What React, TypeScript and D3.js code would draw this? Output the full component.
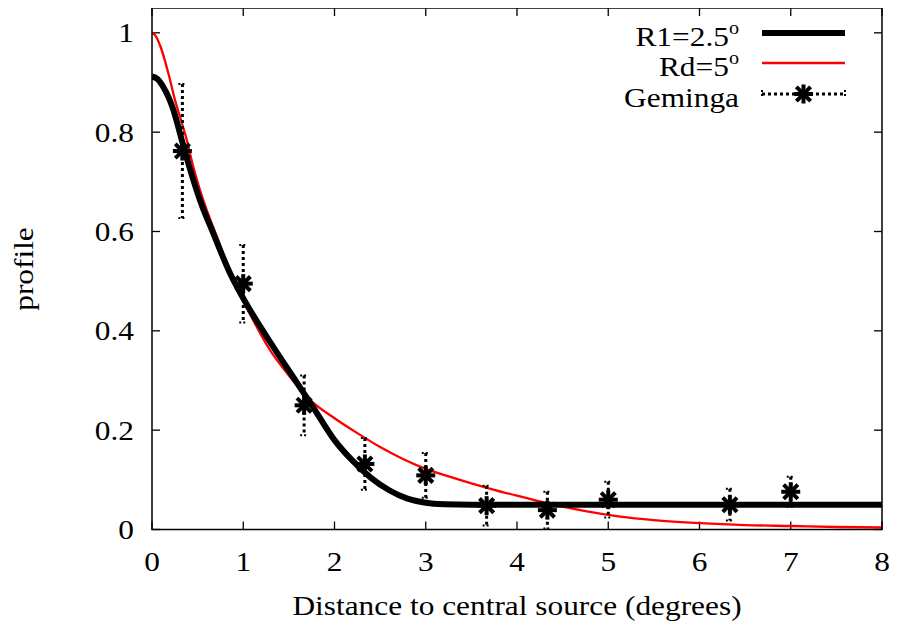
import React from "react";
import * as d3 from "d3";

const xTicks = [0, 1, 2, 3, 4, 5, 6, 7, 8];
const yTicks = [0, 0.2, 0.4, 0.6, 0.8, 1];
const yTickLabels = ["0", "0.2", "0.4", "0.6", "0.8", "1"];

// R1 = 2.5 deg profile (thick black)
const r1X = [0, 0.06, 0.124, 0.234, 0.325, 0.416, 0.526, 0.672, 0.855, 1.074, 1.3, 1.55, 1.77, 2.0, 2.2, 2.4, 2.6, 2.8, 3.0, 3.2, 3.5, 4.5, 6, 8];
const r1Y = [0.912, 0.907, 0.891, 0.845, 0.785, 0.726, 0.663, 0.596, 0.516, 0.442, 0.376, 0.306, 0.245, 0.18, 0.138, 0.104, 0.079, 0.062, 0.054, 0.051, 0.05, 0.05, 0.05, 0.05];

// Rd = 5 deg profile (thin red)
const rdX = [0, 0.04, 0.09, 0.18, 0.25, 0.32, 0.38, 0.45, 0.56, 0.71, 0.89, 1.07, 1.29, 1.5, 1.75, 2.0, 2.25, 2.5, 2.75, 3.0, 3.25, 3.5, 3.75, 4.0, 4.33, 4.75, 5.13, 5.5, 6.0, 6.5, 7.0, 7.5, 8.0];
const rdY = [1.0, 0.994, 0.974, 0.918, 0.866, 0.823, 0.785, 0.732, 0.664, 0.59, 0.503, 0.435, 0.362, 0.31, 0.258, 0.224, 0.194, 0.166, 0.142, 0.122, 0.107, 0.093, 0.08, 0.068, 0.053, 0.037, 0.026, 0.019, 0.013, 0.009, 0.007, 0.005, 0.004];

// Geminga data points
const gemX = [0.333, 1.0, 1.667, 2.333, 3.0, 3.667, 4.333, 5.0, 6.333, 7.0];
const gemY = [0.762, 0.495, 0.25, 0.132, 0.109, 0.048, 0.039, 0.06, 0.05, 0.076];
const gemErr = [0.135, 0.078, 0.06, 0.052, 0.045, 0.04, 0.037, 0.036, 0.032, 0.03];

const legendLabels = [
  { main: "R1=2.5", sup: "o" },
  { main: "Rd=5", sup: "o" },
  { main: "Geminga", sup: "" },
];

const W = 898;
const H = 631;
const left = 152;
const right = 882;
const top = 8;
const bottom = 529.5;
const FONT = "'Liberation Serif', 'Times New Roman', serif";
const FS = 28;
const SX = 1.12;

function Star({ cx, cy, r }: { cx: number; cy: number; r: number }) {
  const d = r * 0.75;
  return (
    <g stroke="#000" strokeWidth={4} strokeLinecap="butt">
      <line x1={cx - r} y1={cy} x2={cx + r} y2={cy} />
      <line x1={cx} y1={cy - r} x2={cx} y2={cy + r} />
      <line x1={cx - d} y1={cy - d} x2={cx + d} y2={cy + d} />
      <line x1={cx - d} y1={cy + d} x2={cx + d} y2={cy - d} />
    </g>
  );
}

function T({ x, y, anchor, children, rotate }: any) {
  const tr = `translate(${x},${y})${rotate ? ` rotate(${rotate})` : ""} scale(${SX},1)`;
  return (
    <text transform={tr} textAnchor={anchor} fontFamily={FONT} fontSize={FS} fill="#000">
      {children}
    </text>
  );
}

export default function App() {
  const x = d3.scaleLinear().domain([0, 8]).range([left, right]);
  const y = d3.scaleLinear().domain([0, 1.05]).range([bottom, top]);

  const line = d3
    .line<[number, number]>()
    .x((d) => x(d[0]))
    .y((d) => y(d[1]))
    .curve(d3.curveMonotoneX);

  const r1Path = line(r1X.map((v, i) => [v, r1Y[i]]) as [number, number][]) || "";
  const rdPath = line(rdX.map((v, i) => [v, rdY[i]]) as [number, number][]) || "";

  const legendRowY = [33, 63, 94];
  const legX1 = 762;
  const legX2 = 845;
  const legTextX = 739;

  return (
    <div style={{ margin: -8 }}>
      <svg width={W} height={H} style={{ display: "block", background: "#fff" }}>
        <defs>
          <clipPath id="plotclip">
            <rect x={left} y={top} width={right - left} height={bottom - top} />
          </clipPath>
        </defs>

        {/* ticks */}
        <g stroke="#000" strokeWidth={1.3}>
          {xTicks.map((t) => (
            <g key={"xt" + t}>
              <line x1={x(t)} x2={x(t)} y1={bottom} y2={bottom - 8} />
              <line x1={x(t)} x2={x(t)} y1={top} y2={top + 8} />
            </g>
          ))}
          {yTicks.map((t) => (
            <g key={"yt" + t}>
              <line x1={left} x2={left + 8} y1={y(t)} y2={y(t)} />
              <line x1={right} x2={right - 8} y1={y(t)} y2={y(t)} />
            </g>
          ))}
        </g>

        {/* curves */}
        <g clipPath="url(#plotclip)">
          <path d={rdPath} fill="none" stroke="#ff0000" strokeWidth={2.3} />
          <path d={r1Path} fill="none" stroke="#000" strokeWidth={6} strokeLinejoin="round" />
        </g>

        {/* Geminga error bars */}
        <g stroke="#000" strokeWidth={3} fill="none">
          {gemX.map((gx, i) => {
            const cx = x(gx);
            const yt = y(gemY[i] + gemErr[i]);
            const yb = y(gemY[i] - gemErr[i]);
            return (
              <g key={"eb" + i}>
                <line x1={cx} x2={cx} y1={yt} y2={yb} strokeDasharray="3,3" />
                <line x1={cx - 4} x2={cx + 4} y1={yt} y2={yt} strokeWidth={2} strokeDasharray="2,2" />
                <line x1={cx - 4} x2={cx + 4} y1={yb} y2={yb} strokeWidth={2} strokeDasharray="2,2" />
              </g>
            );
          })}
        </g>
        {gemX.map((gx, i) => (
          <Star key={"st" + i} cx={x(gx)} cy={y(gemY[i])} r={9.5} />
        ))}

        {/* frame */}
        <rect x={left} y={top} width={right - left} height={bottom - top} fill="none" stroke="#000" strokeWidth={1.5} />

        {/* tick labels */}
        {xTicks.map((t) => (
          <T key={"xl" + t} x={x(t)} y={571} anchor="middle">
            {String(t)}
          </T>
        ))}
        {yTicks.map((t, i) => (
          <T key={"yl" + t} x={134} y={y(t) + 9.5} anchor="end">
            {yTickLabels[i]}
          </T>
        ))}

        {/* axis titles */}
        <T x={517} y={615} anchor="middle">
          Distance to central source (degrees)
        </T>
        <T x={33} y={269} anchor="middle" rotate={-90}>
          profile
        </T>

        {/* legend */}
        {legendLabels.map((l, i) => (
          <T key={"lg" + i} x={legTextX} y={legendRowY[i] + 13} anchor="end">
            {l.main}
            {l.sup ? (
              <tspan fontSize={18} dy={-12}>
                {l.sup}
              </tspan>
            ) : null}
          </T>
        ))}
        <line x1={legX1} x2={legX2} y1={legendRowY[0]} y2={legendRowY[0]} stroke="#000" strokeWidth={6} />
        <line x1={legX1} x2={legX2} y1={legendRowY[1]} y2={legendRowY[1]} stroke="#ff0000" strokeWidth={2.3} />
        <g stroke="#000" fill="none">
          <line x1={legX1} x2={legX2} y1={legendRowY[2]} y2={legendRowY[2]} strokeWidth={3} strokeDasharray="3,3" />
          <line x1={legX1} x2={legX1} y1={legendRowY[2] - 4} y2={legendRowY[2] + 4} strokeWidth={2} strokeDasharray="2,2" />
          <line x1={legX2} x2={legX2} y1={legendRowY[2] - 4} y2={legendRowY[2] + 4} strokeWidth={2} strokeDasharray="2,2" />
        </g>
        <Star cx={(legX1 + legX2) / 2} cy={legendRowY[2]} r={9.5} />
      </svg>
    </div>
  );
}
